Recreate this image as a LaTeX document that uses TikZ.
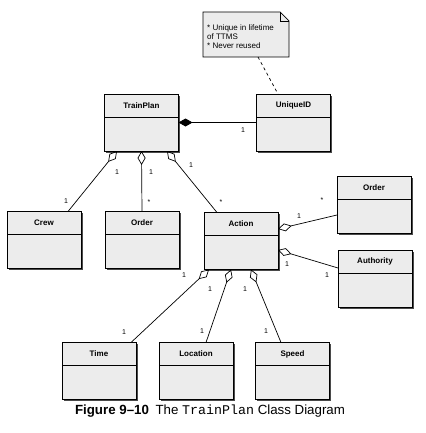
\documentclass[tikz,border=0pt]{standalone}
\usepackage{fontspec}
\setmainfont{Liberation Sans}
\setmonofont{Liberation Mono}
\usepackage{tikz}
\usetikzlibrary{positioning,arrows.meta,shadows}
\definecolor{boxgray}{HTML}{ECECEC}
\definecolor{shadegray}{HTML}{4A4A4A}

\begin{document}
\begin{tikzpicture}
                [
                x=1pt, y=-1pt,
                umlclass/.style={draw,line width=0.8pt,fill=boxgray,minimum width=74pt,minimum height=57pt,
                    inner sep=0pt,outer sep=0pt,
                    drop shadow={shadow xshift=1.8pt,shadow yshift=-1.8pt,fill=shadegray,opacity=1},
                    path picture={
                        \draw[line width=0.8pt] ([yshift=-23pt]path picture bounding box.north west)
                            -- ([yshift=-23pt]path picture bounding box.north east);
                        \node[font=\bfseries\fontsize{8}{9}\selectfont] at ([yshift=-11.5pt]path picture bounding box.north) {#1};}},
                notebox/.style={minimum width=86pt,minimum height=45pt,inner sep=0pt,outer sep=0pt},
                notetext/.style={font=\fontsize{8}{9}\selectfont,align=left,inner sep=0pt},
                aggr/.style={{Diamond[open,length=14pt,width=8pt]}-,line width=0.7pt},
                comp/.style={{Diamond[length=14pt,width=8pt]}-,line width=0.7pt},
                mult/.style={font=\fontsize{7}{8}\selectfont,inner sep=0pt}
                ]
            \useasboundingbox (0,0) rectangle (425,433);
            \node[umlclass=TrainPlan] (plan) at (141.5,122.5) {};
            \node[umlclass=UniqueID] (uid) at (293.5,122.5) {};
            \node[umlclass=Crew] (crew) at (44,240) {};
            \node[umlclass=Order] (order) at (142,240) {};
            \node[umlclass=Action] (action) at (241,241) {};
            \node[umlclass=Order] (actorder) at (374,204.5) {};
            \node[umlclass=Authority] (authority) at (375,278.5) {};
            \node[umlclass=Time] (time) at (99,371) {};
            \node[umlclass=Location] (location) at (196,371) {};
            \node[umlclass=Speed] (speed) at (292.5,371) {};

            \node[notebox] (note) at (246,34.5) {};
            \draw[line width=0.7pt,fill=boxgray] (note.south west) -- (note.north west)
                -- ([xshift=-9pt]note.north east) -- ([yshift=-9pt]note.north east)
                -- (note.south east) -- cycle;
            \draw[line width=0.7pt] ([xshift=-9pt]note.north east) -- ([xshift=-9pt,yshift=-9pt]note.north east)
                -- ([yshift=-9pt]note.north east);
            \node[notetext,anchor=north west] (notetxt) at ([xshift=4pt,yshift=-13pt]note.north west)
                {* Unique in lifetime\\of TTMS\\* Never reused};
            \draw[dashed,line width=0.7pt] ([xshift=12pt]note.south) -- ([xshift=-15.5pt]uid.north);

            \draw[comp] (plan.east) -- (uid.west);
            \draw[aggr] ([xshift=-24.5pt]plan.south) -- ([xshift=24pt]crew.north);
            \draw[aggr] (plan.south) -- (order.north);
            \draw[aggr] ([xshift=25.5pt]plan.south) -- ([xshift=-24pt]action.north);
            \draw[aggr] ([yshift=12pt]action.east) -- ([yshift=-10.5pt]actorder.west);
            \draw[aggr] ([yshift=-9pt]action.east) -- ([yshift=10.5pt]authority.west);
            \draw[aggr] ([xshift=-32pt]action.south) -- ([xshift=32pt]time.north);
            \draw[aggr] ([xshift=-10pt]action.south) -- ([xshift=10pt]location.north);
            \draw[aggr] ([xshift=10pt]action.south) -- ([xshift=-11.5pt]speed.north);

            \node[mult] (m1) at (243,130) {1};
            \node[mult] (m2) at (117,172) {1};
            \node[mult] (m3) at (66,201) {1};
            \node[mult] (m4) at (151,172) {1};
            \node[mult] (m5) at (149,202) {*};
            \node[mult] (m6) at (191,165) {1};
            \node[mult] (m7) at (221,202) {*};
            \node[mult] (m8) at (299,216) {1};
            \node[mult] (m9) at (322,200) {*};
            \node[mult] (m10) at (287,264) {1};
            \node[mult] (m11) at (327,275) {1};
            \node[mult] (m12) at (184,275) {1};
            \node[mult] (m13) at (124,332) {1};
            \node[mult] (m14) at (210,289) {1};
            \node[mult] (m15) at (202,331) {1};
            \node[mult] (m16) at (245,289) {1};
            \node[mult] (m17) at (266,331) {1};

            \node[font=\fontsize{13.3}{15}\selectfont] (caption) at (210,411)
                {\textbf{Figure 9--10}\enspace The \texttt{TrainPlan} Class Diagram};
            \end{tikzpicture}
\end{document}
